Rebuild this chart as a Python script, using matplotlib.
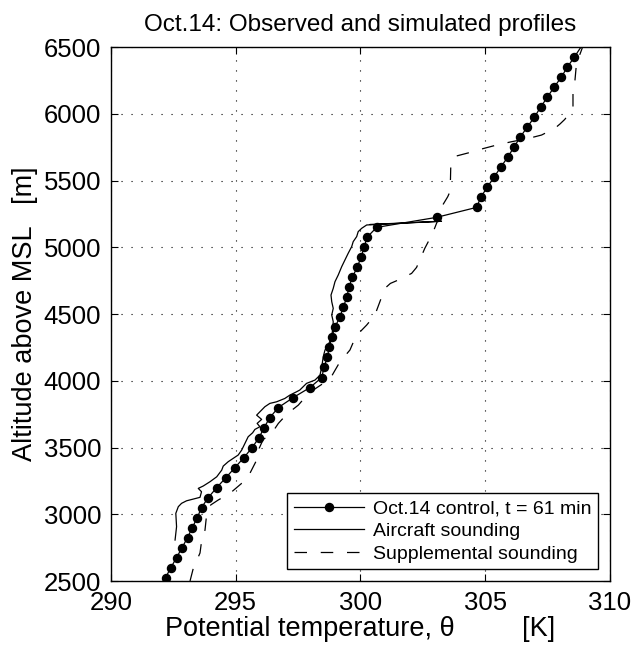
import numpy as np
import matplotlib
matplotlib.use("Agg")
import matplotlib.pyplot as plt

plt.rcParams['font.family'] = ['Liberation Sans', 'DejaVu Sans']

# model column (Oct.14 control run, t = 61 min)
z_model = [2525, 2600, 2675, 2750, 2825, 2900, 2975, 3050, 3125, 3200,
           3275, 3350, 3425, 3500, 3575, 3650, 3725, 3800, 3875, 3950,
           4025, 4100, 4175, 4250, 4325, 4400, 4475, 4550, 4625, 4700,
           4775, 4850, 4925, 5000, 5075, 5150, 5225, 5300, 5375, 5450,
           5525, 5600, 5675, 5750, 5825, 5900, 5975, 6050, 6125, 6200,
           6275, 6350, 6425, 6575]
th_model = [292.19, 292.40, 292.63, 292.85, 293.07, 293.26, 293.46, 293.63, 293.90, 294.24,
            294.61, 294.97, 295.33, 295.66, 295.94, 296.14, 296.37, 296.71, 297.31, 297.98,
            298.45, 298.54, 298.67, 298.75, 298.85, 298.97, 299.17, 299.31, 299.45, 299.54,
            299.67, 299.87, 300.02, 300.15, 300.26, 300.65, 303.05, 304.66, 304.82, 305.08,
            305.35, 305.62, 305.90, 306.15, 306.40, 306.68, 306.97, 307.22, 307.49, 307.76,
            308.05, 308.29, 308.57, 309.10]

# aircraft sounding
z_air = [2807, 2907, 3007, 3057, 3082, 3101, 3127, 3169, 3194, 3212,
         3244, 3281, 3331, 3361, 3394, 3419, 3444, 3481, 3531, 3581,
         3611, 3636, 3656, 3681, 3711, 3743, 3768, 3806, 3831, 3843,
         3868, 3893, 3918, 3931, 3981, 4006, 4043, 4106, 4181, 4231,
         4268, 4331, 4393, 4443, 4493, 4543, 4593, 4643, 4693, 4743,
         4793, 4856, 4906, 4956, 5006, 5043, 5081, 5118, 5143, 5168,
         5196, 5172]
th_air = [292.57, 292.63, 292.60, 292.70, 292.83, 293.03, 293.57, 293.63, 293.50, 293.70,
          293.97, 294.24, 294.44, 294.50, 294.70, 294.90, 295.10, 295.24, 295.37, 295.50,
          295.68, 295.77, 295.97, 295.86, 296.04, 295.84, 295.97, 296.17, 296.37, 296.64,
          296.97, 297.17, 297.44, 297.57, 297.84, 298.18, 298.38, 298.45, 298.51, 298.58,
          298.71, 298.85, 298.89, 298.91, 298.85, 298.91, 298.85, 298.82, 298.91, 298.98,
          299.11, 299.25, 299.38, 299.51, 299.65, 299.71, 299.85, 299.91, 300.05, 300.25,
          303.25, 300.40]

# supplemental sounding
z_sup = [2500, 2595, 2710, 2795, 2882, 3007, 3070, 3107, 3157, 3232,
         3257, 3307, 3406, 3494, 3560, 3606, 3681, 3740, 3768, 3818,
         3880, 3931, 3981, 4020, 4056, 4143, 4231, 4318, 4370, 4418,
         4493, 4593, 4693, 4730, 4755, 4805, 4850, 4906, 4993, 5043,
         5118, 5180, 5243, 5318, 5380, 5418, 5518, 5600, 5682, 5708,
         5741, 5767, 5792, 5815, 5842, 5892, 5925, 5959, 6041, 6154,
         6254, 6379, 6478, 6500]
th_sup = [293.17, 293.30, 293.57, 293.63, 293.77, 293.84, 294.00, 294.30, 294.77, 295.24,
          295.44, 295.57, 295.84, 295.94, 296.10, 296.44, 296.71, 297.00, 297.17, 297.51,
          297.80, 298.11, 298.51, 298.80, 298.91, 299.18, 299.58, 299.78, 300.00, 300.25,
          300.58, 300.78, 300.98, 301.20, 301.51, 302.05, 302.25, 302.38, 302.58, 302.72,
          302.92, 303.05, 303.19, 303.30, 303.50, 303.59, 303.61, 303.62, 303.79, 304.32,
          304.93, 305.46, 306.06, 306.70, 307.26, 307.79, 308.00, 308.19, 308.52, 308.52,
          308.60, 308.66, 308.86, 308.90]

fig = plt.figure(figsize=(6.34, 6.47), dpi=100)
ax = fig.add_axes([0.175, 0.102, 0.787, 0.825])

ax.plot(th_model, z_model, 'k-', lw=0.9, marker='o', ms=5.8,
        label='Oct.14 control, t = 61 min')
ax.plot(th_air, z_air, 'k-', lw=0.9, label='Aircraft sounding')
ax.plot(th_sup, z_sup, 'k', lw=0.9, dashes=(10, 11), label='Supplemental sounding')

ax.set_xlim(290, 310)
ax.set_ylim(2500, 6500)
ax.set_xticks([290, 295, 300, 305, 310])
ax.set_yticks(np.arange(2500, 6501, 500))
ax.tick_params(direction='in', top=True, right=True, length=5, labelsize=18.5)
ax.tick_params(axis='x', pad=7)
ax.tick_params(axis='y', pad=7)
ax.grid(True, color='k', linestyle=(0, (1, 8)), lw=0.8)
for s in ax.spines.values():
    s.set_linewidth(1.0)

ax.set_title('Oct.14: Observed and simulated profiles', fontsize=17.5, pad=12)
ax.set_xlabel('Potential temperature, θ         [K]', fontsize=19.5, labelpad=1)
ax.set_ylabel('Altitude above MSL   [m]', fontsize=19.5, labelpad=4)

leg = ax.legend(loc='lower right', fontsize=14, frameon=True, fancybox=False,
                edgecolor='k', framealpha=1, borderaxespad=0.6, handlelength=3.6,
                handletextpad=0.45, labelspacing=0.25, borderpad=0.35)
leg.get_frame().set_linewidth(1.0)

fig.savefig('out.png', dpi=100)
